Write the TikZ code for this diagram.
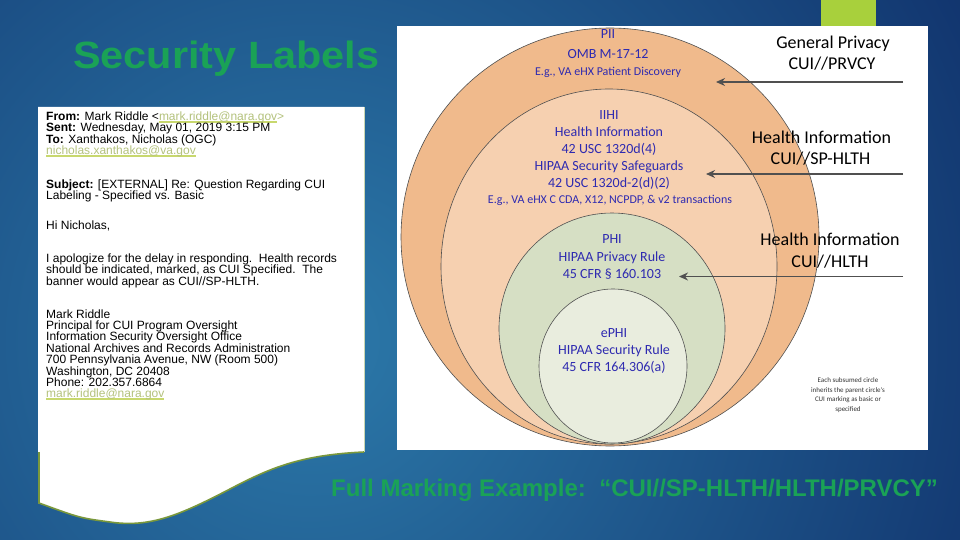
\documentclass[tikz,border=0pt]{standalone}
\usepackage{fontspec}
\setmainfont{Liberation Sans}
\newfontfamily\calfont{Carlito}
\usetikzlibrary{arrows.meta}
\definecolor{bgdark}{RGB}{11,36,96}
\definecolor{bglight}{RGB}{44,122,170}
\definecolor{titlegreen}{RGB}{26,162,86}
\definecolor{tabgreen}{RGB}{168,208,60}
\definecolor{ringa}{RGB}{240,186,140}
\definecolor{ringb}{RGB}{246,208,176}
\definecolor{ringc}{RGB}{214,223,196}
\definecolor{ringd}{RGB}{233,237,222}
\definecolor{ringline}{RGB}{80,80,80}
\definecolor{circtext}{RGB}{46,42,176}
\definecolor{arrowgray}{RGB}{80,80,80}
\definecolor{linkc}{RGB}{180,194,125}
\definecolor{linkul}{RGB}{200,216,110}
\definecolor{edgegreen}{RGB}{122,152,60}
\newcommand\emaillink[1]{\setbox0\hbox{\color{linkc}#1}\rlap{\color{linkul}\rule[-2.6pt]{\wd0}{1.8pt}}\box0}
\tikzset{
  emailtxt/.style={anchor=base west, inner sep=0pt, font=\fontsize{12}{11.35}\selectfont, text=black},
  circtxt/.style={anchor=base, inner sep=0pt, font=\calfont\fontsize{14}{16}\selectfont, text=circtext},
  circsmall/.style={anchor=base, inner sep=0pt, font=\calfont\fontsize{12}{14}\selectfont, text=circtext},
  sidetxt/.style={anchor=base, inner sep=0pt, font=\calfont\fontsize{18}{20}\selectfont, text=black},
  ring/.style={draw=ringline, line width=0.6pt},
  pointer/.style={draw=arrowgray, line width=1.3pt, -{Stealth[length=9pt,width=8pt]}}
}
\begin{document}
\begin{tikzpicture}[x=1pt,y=-1pt]
\useasboundingbox (0,0) rectangle (960,540);
% background
\fill[bgdark] (0,0) rectangle (960,540);
\begin{scope}
\clip (0,0) rectangle (960,540);
\shade[inner color=bglight, outer color=bgdark] (310,340) circle (920pt);
\end{scope}
% green tab
\fill[tabgreen] (821,0) rectangle (876,27);
% title
\node[anchor=base west, inner sep=0pt, text=titlegreen, font=\fontsize{38}{40}\selectfont\bfseries] (title) at (73,68.3) {\scalebox{1.09}[1]{Security Labels}};
% email paper
\fill[white] (38,107) -- (364,107) -- (364,452) .. controls (300,455) and (270,468) .. (230,489) .. controls (180,515) and (150,528) .. (110,522) .. controls (80,518) .. (38,503) -- cycle;
\draw[edgegreen, line width=1.6pt] (39,452) -- (39,503) .. controls (80,518) .. (110,522) .. controls (150,528) and (180,515) .. (230,489) .. controls (270,468) and (300,455) .. (364,452);
\draw[edgegreen!40, line width=0.6pt] (364,107) -- (364,452);
% email text
\node[emailtxt] (e1) at (46,120.7) {\textbf{From:} Mark Riddle <\emaillink{mark.riddle@nara.gov}>};
\node[emailtxt] (e2) at (46,132) {\textbf{Sent:} Wednesday, May 01, 2019 3:15 PM};
\node[emailtxt] (e3) at (46,143.3) {\textbf{To:} Xanthakos, Nicholas (OGC)};
\node[emailtxt] (e4) at (46,154.6) {\emaillink{nicholas.xanthakos@va.gov}};
\node[emailtxt] (e5) at (46,188.3) {\textbf{Subject:} [EXTERNAL] Re: Question Regarding CUI};
\node[emailtxt] (e6) at (46,199.3) {Labeling - Specified vs. Basic};
\node[emailtxt] (e7) at (46,229) {Hi Nicholas,};
\node[emailtxt] (e8) at (46,262.3) {I apologize for the delay in responding.\ \ Health records};
\node[emailtxt] (e9) at (46,273.3) {should be indicated, marked, as CUI Specified.\ \ The};
\node[emailtxt] (e10) at (46,285) {banner would appear as CUI//SP-HLTH.};
\node[emailtxt] (e11) at (46,318.3) {Mark Riddle};
\node[emailtxt] (e12) at (46,329.3) {Principal for CUI Program Oversight};
\node[emailtxt] (e13) at (46,340.7) {Information Security Oversight Office};
\node[emailtxt] (e14) at (46,352.3) {National Archives and Records Administration};
\node[emailtxt] (e15) at (46,363.3) {700 Pennsylvania Avenue, NW (Room 500)};
\node[emailtxt] (e16) at (46,375) {Washington, DC 20408};
\node[emailtxt] (e17) at (46,386) {Phone: 202.357.6864};
\node[emailtxt] (e18) at (46,397.3) {\emaillink{mark.riddle@nara.gov}};
% diagram panel
\fill[white] (397,26) rectangle (928,450);
\filldraw[ringa, ring] (610,237) ellipse (209pt and 209pt);
\filldraw[ringb, ring] (609,266.5) ellipse (168pt and 177.5pt);
\filldraw[ringc, ring] (612,328.5) ellipse (113pt and 115.5pt);
\filldraw[ringd, ring] (613,366) ellipse (74pt and 77pt);
% circle texts
\node[circtxt] (pii) at (608,39) {PII};
\node[circtxt] (omb) at (608,58.5) {OMB M-17-12};
\node[circsmall] (eg1) at (608,75.5) {E.g., VA eHX Patient Discovery};
\node[circtxt] (iihi) at (609,120) {IIHI};
\node[circtxt] (hi) at (609,136.5) {Health Information};
\node[circtxt] (usc1) at (609,153.3) {42 USC 1320d(4)};
\node[circtxt] (hss) at (609,170.5) {HIPAA Security Safeguards};
\node[circtxt] (usc2) at (609,187) {42 USC 1320d-2(d)(2)};
\node[circsmall] (eg2) at (610,203.6) {E.g., VA eHX C CDA, X12, NCPDP, \& v2 transactions};
\node[circtxt] (phi) at (612,243.5) {PHI};
\node[circtxt] (hpr) at (612,261) {HIPAA Privacy Rule};
\node[circtxt] (cfr1) at (612,278.3) {45 CFR § 160.103};
\node[circtxt] (ephi) at (614,337.5) {ePHI};
\node[circtxt] (hsr) at (614,354) {HIPAA Security Rule};
\node[circtxt] (cfr2) at (614,371.2) {45 CFR 164.306(a)};
% side labels
\node[sidetxt] (gp) at (833,48.8) {General Privacy};
\node[sidetxt] (prvcy) at (832,69.5) {CUI//PRVCY};
\node[sidetxt] (hia) at (821.5,143.3) {Health Information};
\node[sidetxt] (sphlth) at (820.5,164.6) {CUI//SP-HLTH};
\node[sidetxt] (hib) at (830,245.5) {Health Information};
\node[sidetxt] (hlth) at (830,267.2) {CUI//HLTH};
% arrows
\coordinate (a1s) at (903,82);
\coordinate (a1e) at (716,82);
\coordinate (a2s) at (903,174);
\coordinate (a2e) at (706,174);
\coordinate (a3s) at (903,276.5);
\coordinate (a3e) at (679,276.5);
\draw[pointer] (a1s) -- (a1e);
\draw[pointer] (a2s) -- (a2e);
\draw[pointer] (a3s) -- (a3e);
% note
\node[anchor=center, inner sep=0pt, align=center, text=black!80, font=\calfont\fontsize{7}{9.5}\selectfont] (note) at (848,395) {Each subsumed circle\\inherits the parent circle's\\CUI marking as basic or\\specified};
% bottom
\node[anchor=base west, inner sep=0pt, text=titlegreen, font=\fontsize{24}{26}\selectfont\bfseries] (full) at (331,496) {Full Marking Example:\ \ “CUI//SP-HLTH/HLTH/PRVCY”};
\end{tikzpicture}
\end{document}
